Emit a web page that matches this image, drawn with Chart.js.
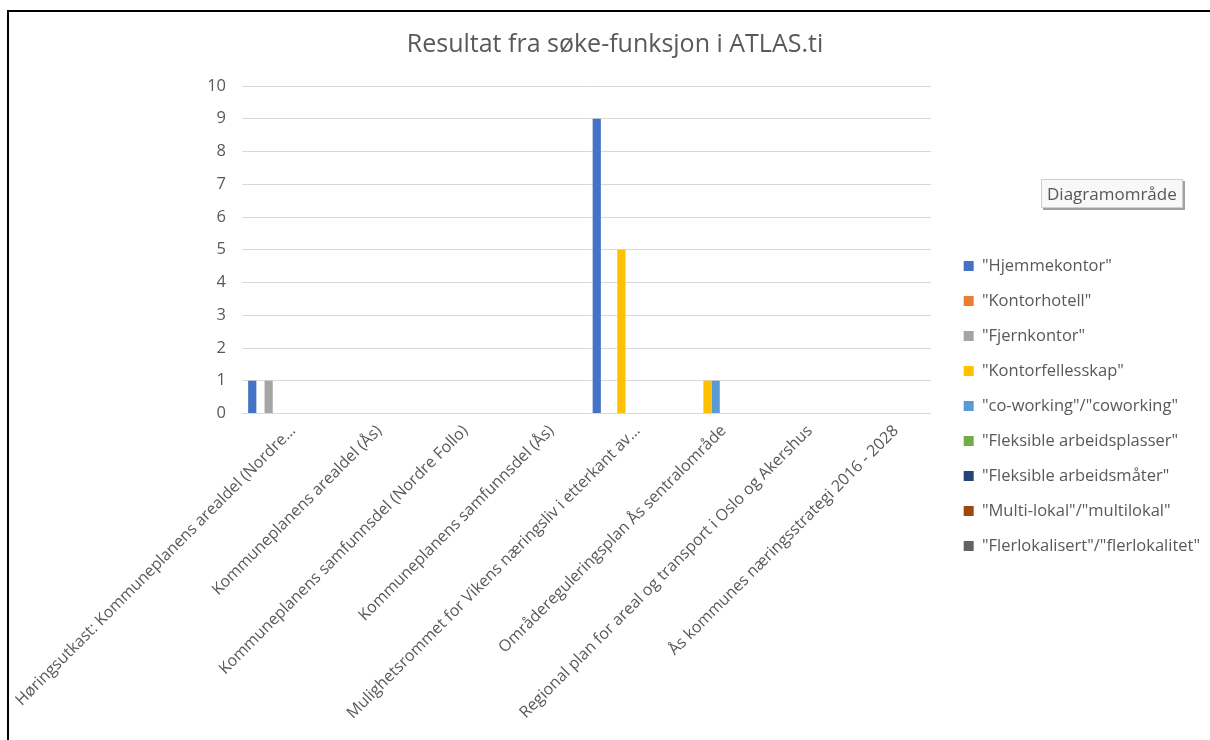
<!DOCTYPE html>
<html lang="no">
<head>
<meta charset="utf-8">
<title>Resultat fra søke-funksjon i ATLAS.ti</title>
<script src="https://cdn.jsdelivr.net/npm/chart.js@4.4.1/dist/chart.umd.min.js"></script>
<style>
  html, body { margin: 0; padding: 0; background: #ffffff; overflow: hidden; }
  #stage { position: relative; width: 1210px; height: 740px; overflow: hidden; background: #ffffff; }
  #chart { position: absolute; left: 0; top: 0; }
  #frame {
    position: absolute; left: 7px; top: 10px; width: 1400px; height: 1000px;
    border: 2px solid #000000; pointer-events: none;
  }
  #hint {
    position: absolute; left: 1041px; top: 179px; height: 29px; box-sizing: border-box;
    padding: 0 5px; line-height: 27px;
    font-family: "Open Sans", sans-serif; font-size: 17px; color: #575757;
    background: #f8f8f8; border: 1px solid #cfcfcf;
    box-shadow: 2px 2px 0 #a0a0a0;
  }
</style>
</head>
<body>
<div id="stage">
  <canvas id="chart" width="1210" height="802"></canvas>
  <div id="frame"></div>
  <div id="hint">Diagramområde</div>
</div>
<script>
// Documents searched
const documents = [
  "Høringsutkast: Kommuneplanens arealdel (Nordre…",
  "Kommuneplanens arealdel (Ås)",
  "Kommuneplanens samfunnsdel (Nordre Follo)",
  "Kommuneplanens samfunnsdel (Ås)",
  "Mulighetsrommet for Vikens næringsliv i etterkant av…",
  "Områdereguleringsplan Ås sentralområde",
  "Regional plan for areal og transport i Oslo og Akershus",
  "Ås kommunes næringsstrategi 2016 - 2028"
];

// Search terms (one series each)
const searchTerms = [
  "\"Hjemmekontor\"",
  "\"Kontorhotell\"",
  "\"Fjernkontor\"",
  "\"Kontorfellesskap\"",
  "\"co-working\"/\"coworking\"",
  "\"Fleksible arbeidsplasser\"",
  "\"Fleksible arbeidsmåter\"",
  "\"Multi-lokal\"/\"multilokal\"",
  "\"Flerlokalisert\"/\"flerlokalitet\""
];

// Hits per document for each search term
const hjemmekontor        = [1, 0, 0, 0, 9, 0, 0, 0];
const kontorhotell        = [0, 0, 0, 0, 0, 0, 0, 0];
const fjernkontor         = [1, 0, 0, 0, 0, 0, 0, 0];
const kontorfellesskap    = [0, 0, 0, 0, 5, 1, 0, 0];
const coworking           = [0, 0, 0, 0, 0, 1, 0, 0];
const fleksiblePlasser    = [0, 0, 0, 0, 0, 0, 0, 0];
const fleksibleMater      = [0, 0, 0, 0, 0, 0, 0, 0];
const multilokal          = [0, 0, 0, 0, 0, 0, 0, 0];
const flerlokalisert      = [0, 0, 0, 0, 0, 0, 0, 0];

const yTicks = [0, 1, 2, 3, 4, 5, 6, 7, 8, 9, 10];

const seriesValues = [
  hjemmekontor, kontorhotell, fjernkontor, kontorfellesskap, coworking,
  fleksiblePlasser, fleksibleMater, multilokal, flerlokalisert
];
const seriesColors = [
  "#4472C4", "#ED7D31", "#A5A5A5", "#FFC000", "#5B9BD5",
  "#70AD47", "#264478", "#9E480E", "#636363"
];

const FONT = "'Open Sans', 'Noto Sans', sans-serif";
const TEXT = "#595959";

// Fixed geometry of the plot box
const PLOT_LEFT = 242;
const PLOT_RIGHT = 931;
const PLOT_BOTTOM = 413.5;
const LEGEND_LEFT = 944.5;
const PAD_LEFT = 20;
const PAD_RIGHT = 0;
const CANVAS_W = 1210;
const CANVAS_H = 802;

const datasets = searchTerms.map((name, i) => ({
  label: name,
  data: seriesValues[i],
  backgroundColor: seriesColors[i],
  borderWidth: 0,
  barPercentage: 1,
  categoryPercentage: 9 / 10.5
}));

new Chart(document.getElementById("chart"), {
  type: "bar",
  data: { labels: documents, datasets },
  options: {
    responsive: false,
    animation: false,
    events: [],
    layout: { padding: { left: PAD_LEFT, top: 10, right: PAD_RIGHT, bottom: 0 } },
    plugins: {
      title: {
        display: true,
        text: "Resultat fra søke-funksjon i ATLAS.ti",
        color: TEXT,
        font: { family: FONT, size: 25, weight: "normal" },
        padding: { top: 20, bottom: 26 }
      },
      legend: {
        position: "right",
        maxWidth: CANVAS_W - PAD_RIGHT - LEGEND_LEFT,
        labels: {
          boxWidth: 10,
          boxHeight: 10,
          padding: 18.5,
          color: TEXT,
          font: { family: FONT, size: 16.5 }
        }
      },
      tooltip: { enabled: false }
    },
    scales: {
      x: {
        grid: { display: false },
        border: { display: false },
        ticks: {
          autoSkip: false,
          minRotation: 45,
          maxRotation: 45,
          padding: 0,
          labelOffset: 8,
          color: TEXT,
          font: { family: FONT, size: 16 }
        },
        afterFit(s) {
          s.height = CANVAS_H - PLOT_BOTTOM;
          s.paddingLeft = 0;
          s.paddingRight = 0;
        }
      },
      y: {
        min: 0,
        max: 10,
        grid: { color: "#d9d9d9", lineWidth: 1, drawTicks: false },
        border: { display: false },
        afterBuildTicks(s) { s.ticks = yTicks.map(v => ({ value: v })); },
        ticks: {
          padding: 16,
          color: TEXT,
          font: { family: FONT, size: 16.5 }
        },
        afterFit(s) { s.width = PLOT_LEFT - PAD_LEFT; }
      },
      gap: {
        type: "linear",
        position: "right",
        display: true,
        grid: { display: false },
        border: { display: false },
        ticks: { display: false },
        afterFit(s) {
          const legendW = s.chart.legend ? s.chart.legend.width : 0;
          s.width = Math.max(0, CANVAS_W - PAD_RIGHT - legendW - PLOT_RIGHT);
        }
      }
    }
  }
});
</script>
</body>
</html>
